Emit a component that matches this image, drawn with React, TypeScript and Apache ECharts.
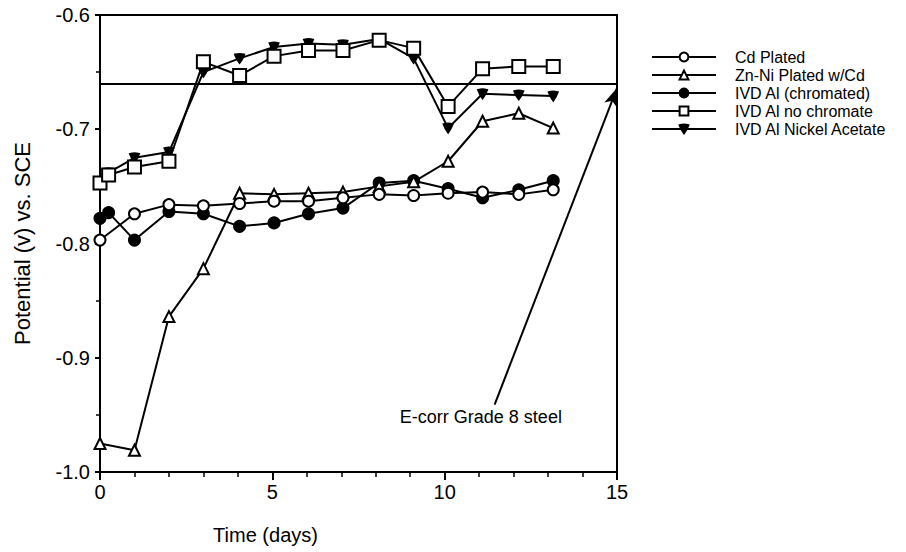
import React, { useEffect, useRef } from "react";
import * as echarts from "echarts";

const days = [0, 0.25, 1, 2, 3, 4.05, 5.05, 6.05, 7.05, 8.1, 9.1, 10.1, 11.1, 12.15, 13.15];
const seriesNames = ["Cd Plated", "Zn-Ni Plated w/Cd", "IVD Al (chromated)", "IVD Al no chromate", "IVD Al Nickel Acetate"];
const cdPlated = [-0.797, null, -0.774, -0.766, -0.767, -0.765, -0.763, -0.763, -0.760, -0.757, -0.758, -0.756, -0.755, -0.757, -0.753];
const znNi = [-0.975, null, -0.981, -0.864, -0.822, -0.756, -0.757, -0.756, -0.755, -0.750, -0.746, -0.728, -0.693, -0.686, -0.699];
const ivdChromated = [-0.778, -0.773, -0.797, -0.772, -0.774, -0.785, -0.782, -0.774, -0.769, -0.747, -0.745, -0.752, -0.760, -0.753, -0.745];
const ivdNoChromate = [-0.747, -0.740, -0.733, -0.728, -0.641, -0.653, -0.636, -0.631, -0.631, -0.622, -0.629, -0.680, -0.647, -0.645, -0.645];
const ivdNickel = [-0.747, -0.738, -0.725, -0.720, -0.650, -0.638, -0.628, -0.625, -0.626, -0.621, -0.638, -0.699, -0.669, -0.670, -0.671];
const eCorr = -0.664;
const arrowStart = [11.45, -0.941];
const arrowEnd = [15, -0.664];
const annotationText = "E-corr Grade 8 steel";
const annotationPos = [11.05, -0.952];
const yTicks = [-1.0, -0.9, -0.8, -0.7, -0.6];

const FONT = "Liberation Sans, Arial, Helvetica, sans-serif";

function pairs(vals: (number | null)[]) {
  const out: [number, number][] = [];
  vals.forEach((v, i) => {
    if (v !== null) out.push([days[i], v]);
  });
  return out;
}

const nickelSymbol = "path://M0,0 Q5,-1.5 10,0 Q8,6 5,10 Q2,6 0,0 Z";

export default function App() {
  const ref = useRef<HTMLDivElement>(null);
  useEffect(() => {
    const chart = echarts.init(ref.current!, null, { renderer: "svg" });
    const lineStyle = { color: "#000", width: 2 };
    const mk = (name: string, data: any, symbol: string, size: any, fill: string, z: number) => ({
      name,
      type: "line",
      data,
      symbol,
      symbolSize: size,
      showSymbol: true,
      z,
      lineStyle,
      itemStyle: { color: fill, borderColor: "#000", borderWidth: 2 },
      emphasis: { disabled: true },
    });
    chart.setOption({
      animation: false,
      textStyle: { fontFamily: FONT, color: "#000" },
      grid: { left: 100, right: 289, top: 15, bottom: 80, show: true, borderColor: "#000", borderWidth: 2 },
      legend: {
        left: 646,
        top: 44,
        orient: "vertical",
        itemWidth: 64,
        itemHeight: 11,
        itemGap: 2,
        data: seriesNames,
        textStyle: { fontFamily: FONT, fontSize: 16, color: "#000", padding: [0, 0, 0, 14] },
        selectedMode: false,
      },
      xAxis: {
        type: "value",
        min: 0,
        max: 15,
        interval: 5,
        name: "Time (days)",
        nameLocation: "middle",
        nameGap: 53,
        nameTextStyle: { fontFamily: FONT, fontSize: 20, color: "#000", padding: [0, 186, 0, 0] },
        axisLine: { show: true, lineStyle: { color: "#000", width: 2 } },
        axisTick: { show: true, length: 8, lineStyle: { color: "#000", width: 2 } },
        minorTick: { show: true, splitNumber: 5, length: 5, lineStyle: { color: "#000", width: 1.5 } },
        axisLabel: { fontFamily: FONT, fontSize: 20, color: "#000", margin: 10 },
        splitLine: { show: false },
      },
      yAxis: {
        type: "value",
        min: -1.0,
        max: -0.6,
        interval: 0.1,
        name: "Potential (v) vs. SCE",
        nameLocation: "middle",
        nameRotate: 90,
        nameGap: 67,
        nameTextStyle: { fontFamily: FONT, fontSize: 22, color: "#000" },
        axisLine: { show: true, lineStyle: { color: "#000", width: 2 } },
        axisTick: { show: true, length: 5, lineStyle: { color: "#000", width: 2 } },
        minorTick: { show: true, splitNumber: 2, length: 4, lineStyle: { color: "#000", width: 1.5 } },
        axisLabel: {
          fontFamily: FONT,
          fontSize: 20,
          color: "#000",
          margin: 10,
          formatter: (v: number) => {
            const t = yTicks.find((k) => Math.abs(k - v) < 1e-6);
            return t !== undefined ? t.toFixed(1) : "";
          },
        },
        splitLine: { show: false },
      },
      series: [
        mk(seriesNames[0], pairs(cdPlated), "circle", 11, "#fff", 5),
        mk(seriesNames[1], pairs(znNi), "triangle", 11, "#fff", 4),
        mk(seriesNames[2], pairs(ivdChromated), "circle", 11, "#000", 3),
        mk(seriesNames[3], pairs(ivdNoChromate), "rect", 13, "#fff", 6),
        mk(seriesNames[4], pairs(ivdNickel), nickelSymbol, [9, 9], "#000", 2),
        {
          name: "annotation",
          type: "line",
          data: [],
          z: 1,
          markLine: {
            silent: true,
            animation: false,
            lineStyle: { color: "#000", width: 2, type: "solid" },
            label: { show: false },
            symbol: "none",
            data: [
              { yAxis: eCorr, symbol: "none" },
              [
                { coord: arrowStart, symbol: "none" },
                { coord: arrowEnd, symbol: "arrow", symbolSize: [10, 18] },
              ],
            ],
          },
          markPoint: {
            silent: true,
            animation: false,
            symbol: "circle",
            symbolSize: 0,
            label: { show: true, position: "inside", color: "#000", fontFamily: FONT, fontSize: 18, formatter: annotationText },
            data: [{ coord: annotationPos, value: 0 }],
          },
        },
      ],
    });
    return () => chart.dispose();
  }, []);
  return <div ref={ref} style={{ position: "fixed", left: 0, top: 0, width: 906, height: 552, background: "#fff" }} />;
}
